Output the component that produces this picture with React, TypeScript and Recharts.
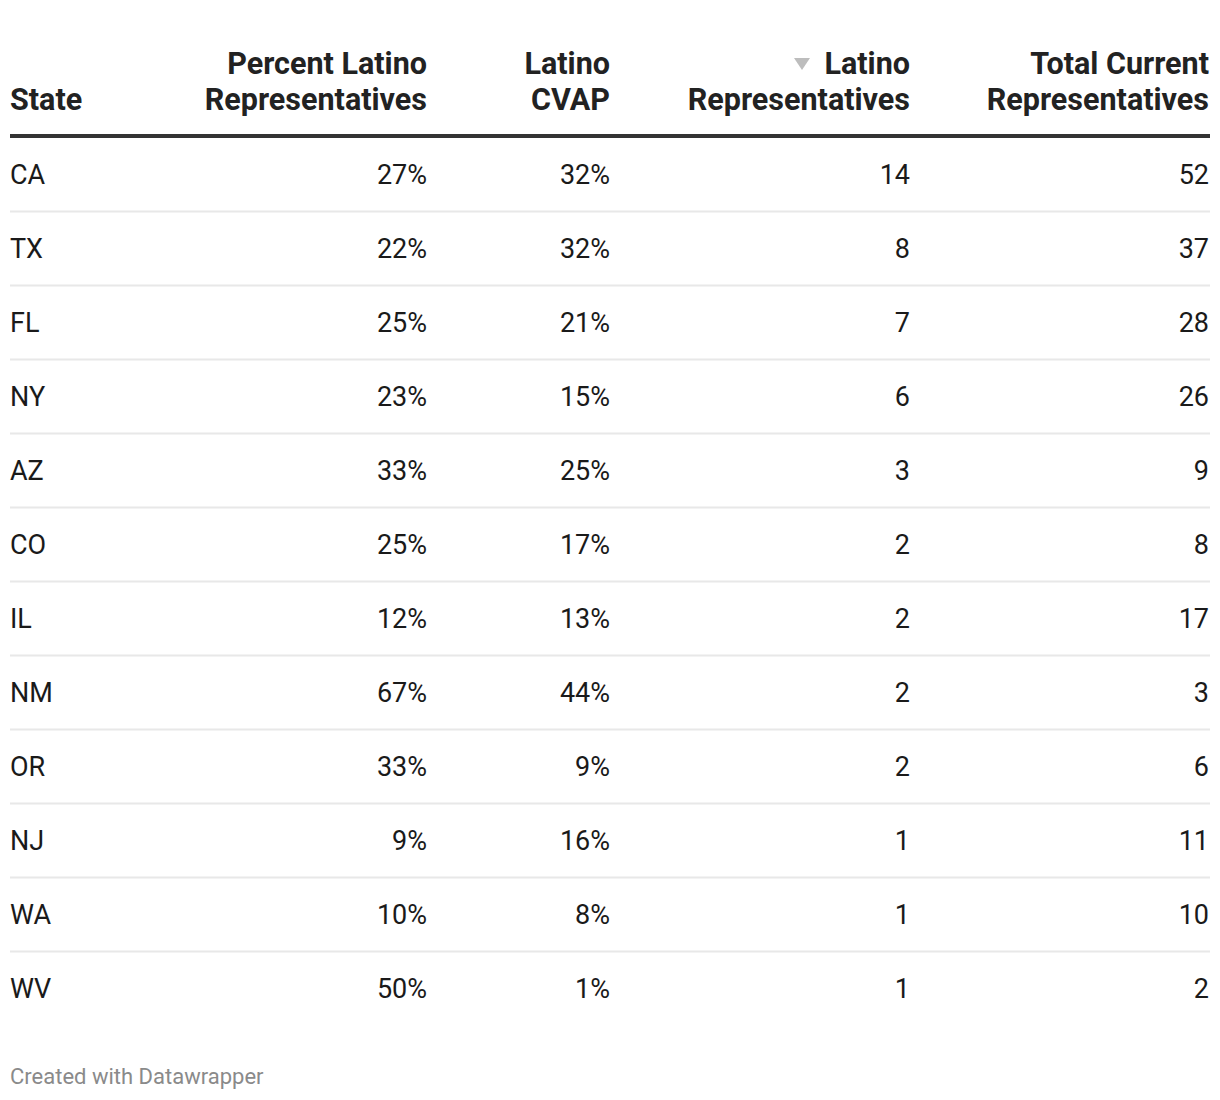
import { ComposedChart, Bar, XAxis, YAxis } from 'recharts';

const states = ['CA', 'TX', 'FL', 'NY', 'AZ', 'CO', 'IL', 'NM', 'OR', 'NJ', 'WA', 'WV'];
const pctLatinoReps = [27, 22, 25, 23, 33, 25, 12, 67, 33, 9, 10, 50];
const latinoCvap = [32, 32, 21, 15, 25, 17, 13, 44, 9, 16, 8, 1];
const latinoReps = [14, 8, 7, 6, 3, 2, 2, 2, 2, 1, 1, 1];
const totalReps = [52, 37, 28, 26, 9, 8, 17, 3, 6, 11, 10, 2];

const rows = states.map((state, i) => ({
  state,
  pct: pctLatinoReps[i],
  cvap: latinoCvap[i],
  latino: latinoReps[i],
  total: totalReps[i],
}));

const ROW_H = 74;
const BODY_FONT = 27;
const HEAD_FONT = 30.5;
const TEXT = '#1a1a1a';

const columns = [
  { key: 'pct', right: 419, fmt: (v: number) => `${v}%`, head: ['Percent Latino', 'Representatives'] },
  { key: 'cvap', right: 602, fmt: (v: number) => `${v}%`, head: ['Latino', 'CVAP'] },
  { key: 'latino', right: 902, fmt: (v: number) => `${v}`, head: ['Latino', 'Representatives'], sorted: true },
  { key: 'total', right: 1201, fmt: (v: number) => `${v}`, head: ['Total Current', 'Representatives'] },
];

// one row of the table, placed on the category axis band
function RowTick(props: any) {
  const { y, payload } = props;
  const row: any = rows.find((r) => r.state === payload?.value);
  if (!row) return null;
  const base = y + BODY_FONT * 0.32;
  const last = row.state === states[states.length - 1];
  return (
    <g>
      <text x={2} y={base} fontSize={BODY_FONT} fill={TEXT} fontFamily="Roboto">
        {row.state}
      </text>
      {columns.map((c) => (
        <text key={c.key} x={c.right} y={base} textAnchor="end" fontSize={BODY_FONT} fill={TEXT} fontFamily="Roboto">
          {c.fmt(row[c.key])}
        </text>
      ))}
      {!last && <rect x={2} y={y + ROW_H / 2 - 1.5} width={1200} height={2} fill="#e8e8e8" />}
    </g>
  );
}

export default function App() {
  return (
    <div style={{ position: 'relative', width: 1204, height: 1092, fontFamily: 'Roboto, sans-serif' }}>
      <div
        style={{
          position: 'absolute', left: 2, top: 38, height: 72, display: 'flex', flexDirection: 'column',
          justifyContent: 'flex-end', fontSize: HEAD_FONT, fontWeight: 700, lineHeight: '36px', color: '#222',
        }}
      >
        <div>State</div>
      </div>
      {columns.map((c) => (
        <div
          key={c.key}
          style={{
            position: 'absolute', right: 1204 - c.right, top: 38, height: 72, textAlign: 'right',
            fontSize: HEAD_FONT, fontWeight: 700, lineHeight: '36px', color: '#222', whiteSpace: 'nowrap',
          }}
        >
          <div>
            {c.sorted && (
              <svg width={16} height={12} style={{ marginRight: 14, verticalAlign: 'middle', position: 'relative', top: -2 }}>
                <polygon points="0,0 16,0 8,12" fill="#bdbdbd" />
              </svg>
            )}
            {c.head[0]}
          </div>
          <div>{c.head[1]}</div>
        </div>
      ))}
      <div style={{ position: 'absolute', left: 2, top: 126, width: 1200, height: 4, background: '#333' }} />
      <div style={{ position: 'absolute', left: 0, top: 130 }}>
        <ComposedChart
          width={1204}
          height={ROW_H * rows.length}
          data={rows}
          layout="vertical"
          margin={{ top: 0, right: 0, bottom: 0, left: 0 }}
        >
          <XAxis type="number" hide />
          <YAxis
            type="category"
            dataKey="state"
            width={1}
            interval={0}
            tickLine={false}
            axisLine={false}
            tick={<RowTick />}
          />
          <Bar dataKey="latino" fill="none" isAnimationActive={false} />
        </ComposedChart>
      </div>
      <div
        style={{
          position: 'absolute', left: 2, top: 1055, fontSize: 22, lineHeight: '28px', color: '#8a8a8a',
        }}
      >
        Created with Datawrapper
      </div>
    </div>
  );
}
